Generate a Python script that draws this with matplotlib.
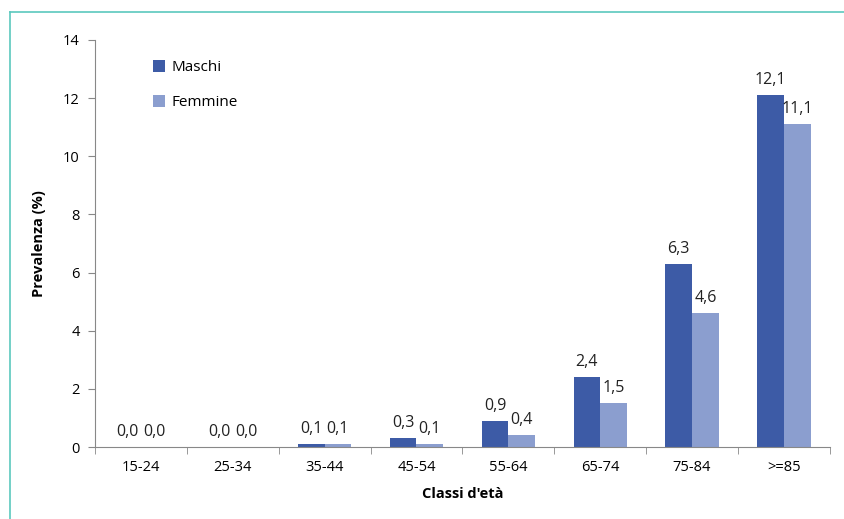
import matplotlib
matplotlib.use("Agg")
import matplotlib.pyplot as plt
from matplotlib.lines import Line2D
import numpy as np

classi = ["15-24", "25-34", "35-44", "45-54", "55-64", "65-74", "75-84", ">=85"]
maschi = [0.0, 0.0, 0.1, 0.3, 0.9, 2.4, 6.3, 12.1]
femmine = [0.0, 0.0, 0.1, 0.1, 0.4, 1.5, 4.6, 11.1]

col_m = "#3d5ba6"
col_f = "#8b9ecf"

plt.rcParams["font.family"] = ["Open Sans", "DejaVu Sans"]

fig = plt.figure(figsize=(8.45, 5.19), dpi=100)
ax = fig.add_axes([0.1124, 0.1387, 0.8696, 0.7843])

x = np.arange(len(classi))
w = 0.29
b1 = ax.bar(x - w / 2, maschi, w, color=col_m, label="Maschi")
b2 = ax.bar(x + w / 2, femmine, w, color=col_f, label="Femmine")

def fmt(v):
    return f"{v:.1f}".replace(".", ",")

for bars, vals in [(b1, maschi), (b2, femmine)]:
    for r, v in zip(bars, vals):
        ax.text(r.get_x() + r.get_width() / 2, v + 0.25, fmt(v),
                ha="center", va="bottom", fontsize=11.5, color="#222222")

ax.set_xlim(-0.5, len(classi) - 0.5)
ax.set_ylim(0, 14)
ax.set_yticks(range(0, 15, 2))
ax.set_xticks(x)
ax.set_xticklabels(classi)
ax.set_xticks(np.arange(-0.5, len(classi), 1), minor=True)
ax.tick_params(axis="x", which="major", length=0, pad=9, labelsize=10.5)
ax.tick_params(axis="x", which="minor", length=5, color="#888888", direction="out")
ax.tick_params(axis="y", length=5, color="#888888", labelsize=10.5, pad=6)

for s in ["top", "right"]:
    ax.spines[s].set_visible(False)
for s in ["left", "bottom"]:
    ax.spines[s].set_color("#888888")

ax.set_ylabel("Prevalenza (%)", fontweight="bold", fontsize=10.5, labelpad=12)
ax.set_xlabel("Classi d'età", fontweight="bold", fontsize=10.5, labelpad=9)

ax.legend(loc="upper left", bbox_to_anchor=(0.06, 0.985), frameon=False,
          handlelength=0.8, handleheight=0.8, labelspacing=1.3, fontsize=11,
          handletextpad=0.4)

# cornice
fig.add_artist(Line2D([0.0118, 1.0], [0.977, 0.977], color="#5bc8be", lw=1.2,
                      transform=fig.transFigure))
fig.add_artist(Line2D([0.0118, 0.0118], [0.0, 0.977], color="#5bc8be", lw=1.2,
                      transform=fig.transFigure))

fig.savefig("out.png", dpi=100)
